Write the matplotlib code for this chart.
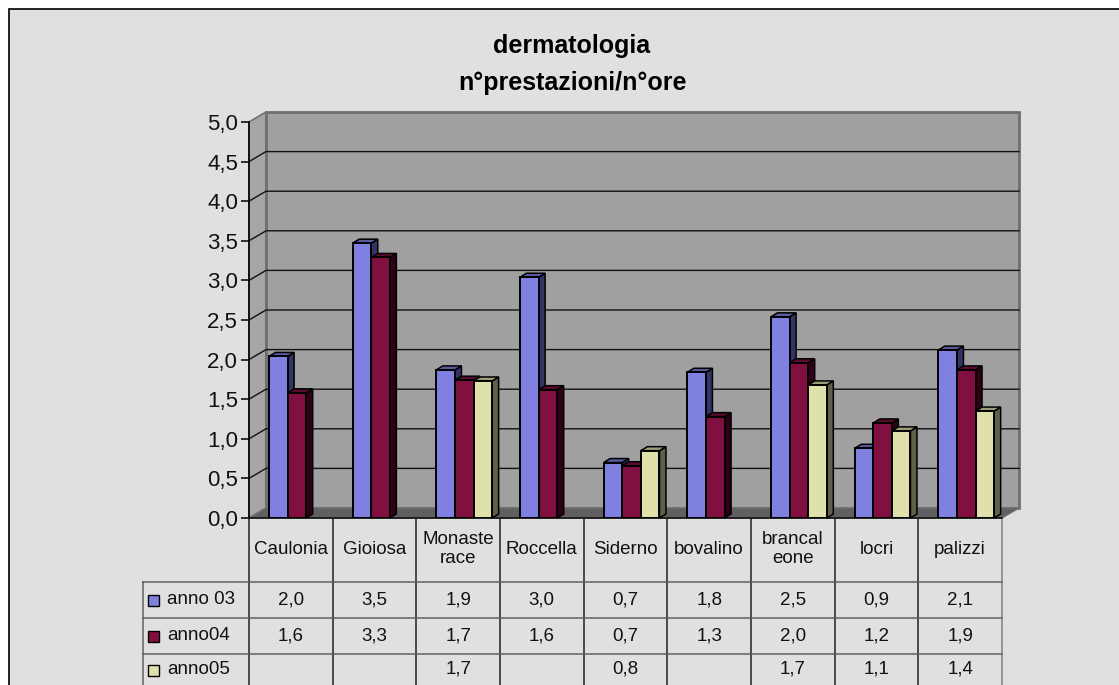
import matplotlib
matplotlib.use('Agg')
import matplotlib.pyplot as plt
from matplotlib.patches import Polygon, Rectangle

plt.rcParams['font.family'] = ['Liberation Sans', 'DejaVu Sans']

# donnees
comuni = ['Caulonia', 'Gioiosa', 'Monaste\nrace', 'Roccella', 'Siderno', 'bovalino', 'brancal\neone', 'locri', 'palizzi']
anno03 = [2.04, 3.47, 1.87, 3.04, 0.70, 1.84, 2.54, 0.88, 2.12]
anno04 = [1.58, 3.29, 1.74, 1.62, 0.66, 1.28, 1.96, 1.20, 1.87]
anno05 = [None, None, 1.73, None, 0.85, None, 1.68, 1.10, 1.35]
serie_noms = ['anno 03', 'anno04', 'anno05']
y_ticks = [0, 0.5, 1, 1.5, 2, 2.5, 3, 3.5, 4, 4.5, 5]

series = [anno03, anno04, anno05]
col_front = ['#8080E0', '#7F1040', '#E0E0AA']
col_side = ['#333366', '#300018', '#60604A']
col_top = ['#5A5AA0', '#580B2D', '#9D9D77']

W, H = 1119, 685
fig = plt.figure(figsize=(W / 100, H / 100), dpi=100, facecolor='white')

# fond, cadre, titre et tableau en pixels
bg = fig.add_axes([0, 0, 1, 1])
bg.set_xlim(0, W)
bg.set_ylim(H, 0)
bg.axis('off')
bg.add_patch(Rectangle((9, 9), W, H, facecolor='#E0E0E0', edgecolor='black', lw=1.2))
bg.text(572, 46, 'dermatologia', ha='center', va='center', fontsize=18, fontweight='bold', color='black')
bg.text(572, 83, 'n°prestazioni/n°ore', ha='center', va='center', fontsize=18, fontweight='bold', color='black')

x0, x1 = 249, 1002
leg_x = 143
rows = [518, 582, 618, 654, 685]
cw = (x1 - x0) / len(comuni)
for i in range(len(comuni) + 1):
    col = '#808080' if i == len(comuni) else '#202020'
    bg.plot([x0 + i * cw] * 2, [rows[0], H], color=col, lw=1.1)
for y in rows[1:4]:
    bg.plot([leg_x, x1], [y, y], color='#606060', lw=1.1)
bg.plot([leg_x, leg_x], [rows[1], H], color='#606060', lw=1.1)
for i, nom in enumerate(comuni):
    bg.text(x0 + (i + 0.5) * cw, (rows[0] + rows[1]) / 2 - 1, nom, ha='center', va='center',
            fontsize=13.5, color='#111111', linespacing=1.1)
for j, nom in enumerate(serie_noms):
    yc = (rows[j + 1] + rows[j + 2]) / 2
    bg.add_patch(Rectangle((148, yc - 5), 11, 11, facecolor=col_front[j], edgecolor='black', lw=1))
    bg.text(167, yc, nom, ha='left', va='center', fontsize=13.5, color='#111111')
    for i, v in enumerate(series[j]):
        if v is not None:
            bg.text(x0 + (i + 0.5) * cw, yc, f'{v:.1f}'.replace('.', ','), ha='center', va='center',
                    fontsize=13.5, color='#111111')

# zone du graphique : plan avant
ax = fig.add_axes([x0 / W, (H - 518) / H, (x1 - x0) / W, 396 / H])
ax.patch.set_alpha(0)
ax.set_xlim(0, len(comuni))
ax.set_ylim(0, 5)
ax.set_yticks(y_ticks)
ax.set_yticklabels([f'{t:.1f}'.replace('.', ',') for t in y_ticks], fontsize=16, color='#111111')
ax.set_xticks([])
ax.tick_params(axis='y', length=6, width=1.1, pad=2)
for s in ['top', 'right', 'bottom']:
    ax.spines[s].set_visible(False)
ax.spines['left'].set_linewidth(1.2)
ax.spines['left'].set_zorder(5)

n = len(comuni)
dx, dy = 17 / cw, 10 / 79.2
ax.add_patch(Polygon([(0, 0), (dx, dy), (dx, 5 + dy), (0, 5)], facecolor='#A6A6A6', edgecolor='#707070', lw=1.2, clip_on=False, zorder=1))
ax.add_patch(Rectangle((dx, dy), n, 5, facecolor='#A0A0A0', edgecolor='#707070', lw=2, clip_on=False, zorder=1))
ax.add_patch(Polygon([(0, 0), (n, 0), (n + dx, dy), (dx, dy)], facecolor='#606060', edgecolor='#707070', lw=1, clip_on=False, zorder=2))
for t in y_ticks[1:-1]:
    ax.plot([0, dx, n + dx], [t, t + dy, t + dy], color='#111111', lw=1, clip_on=False, zorder=2)
ax.plot([0, n], [0, 0], color='#111111', lw=1.2, clip_on=False, zorder=3)

# barres avec une petite profondeur
larg = 18.6 / cw
bdx, bdy = 6.5 / cw, 4 / 79.2
z = 4
for i in range(n):
    for j in range(3):
        v = series[j][i]
        if v is None:
            continue
        left = i + (20 + j * 18.6) / cw
        ax.add_patch(Polygon([(left + larg, 0), (left + larg + bdx, bdy), (left + larg + bdx, v + bdy), (left + larg, v)],
                             facecolor=col_side[j], edgecolor='black', lw=1.1, zorder=z, clip_on=False))
        ax.add_patch(Polygon([(left, v), (left + larg, v), (left + larg + bdx, v + bdy), (left + bdx, v + bdy)],
                             facecolor=col_top[j], edgecolor='black', lw=1.1, zorder=z, clip_on=False))
        ax.bar(left, v, width=larg, align='edge', color=col_front[j], edgecolor='black', lw=1.4, zorder=z + 1)
        z += 2

fig.savefig('out.png', dpi=100, facecolor='white')
